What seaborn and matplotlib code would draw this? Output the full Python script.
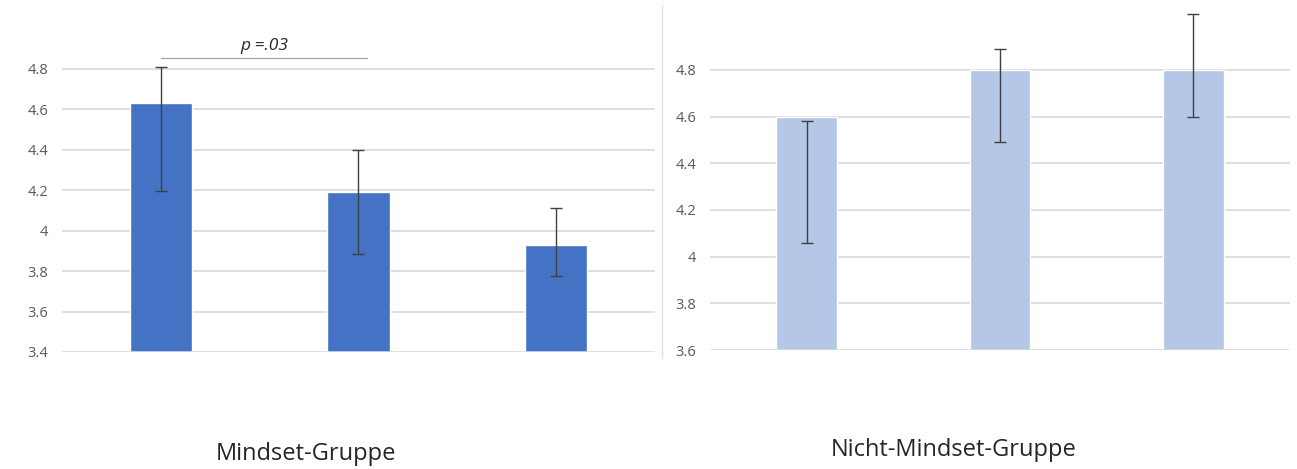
import pandas as pd
import numpy as np
import matplotlib
matplotlib.use('Agg')
import matplotlib.pyplot as plt
import seaborn as sns
from matplotlib.lines import Line2D

# data
groups = ['1', '2', '3']
mindset_mean = [4.63, 4.19, 3.93]
mindset_low = [4.195, 3.885, 3.775]
mindset_high = [4.81, 4.40, 4.11]

nicht_mean = [4.60, 4.80, 4.80]
nicht_low = [4.06, 4.49, 4.60]
nicht_high = [4.58, 4.89, 5.04]

left_ticks = [3.4, 3.6, 3.8, 4.0, 4.2, 4.4, 4.6, 4.8]
right_ticks = [3.6, 3.8, 4.0, 4.2, 4.4, 4.6, 4.8]
tick_labels_left = ['3.4', '3.6', '3.8', '4', '4.2', '4.4', '4.6', '4.8']
tick_labels_right = ['3.6', '3.8', '4', '4.2', '4.4', '4.6', '4.8']

sns.set_style('white')
plt.rcParams['font.family'] = ['Open Sans', 'DejaVu Sans']

fig = plt.figure(figsize=(12.97, 4.69), dpi=100)
ax1 = fig.add_axes([0.0478, 0.2495, 0.4572, 0.6896])
ax2 = fig.add_axes([0.5474, 0.2537, 0.4472, 0.6966])


def draw_panel(ax, mean, low, high, color, ticks, labels, ylim, title, title_y):
    df = pd.DataFrame({'group': groups, 'mean': mean})
    sns.barplot(data=df, x='group', y='mean', color=color, width=0.315,
                errorbar=None, ax=ax, zorder=3, saturation=1)
    # error range is not always around the mean, so draw it from its own midpoint
    low = np.array(low)
    high = np.array(high)
    mid = (low + high) / 2
    ax.errorbar(range(len(groups)), mid, yerr=(high - low) / 2, fmt='none',
                ecolor='#404040', elinewidth=1, capsize=4, capthick=1,
                zorder=4, clip_on=False)
    ax.set_ylim(*ylim)
    ax.set_xlim(-0.5, 2.5)
    ax.set_yticks(ticks)
    ax.set_yticklabels(labels, color='#595959', fontsize=10.5)
    ax.set_xticks([])
    ax.set_xlabel('')
    ax.set_ylabel('')
    ax.tick_params(axis='y', length=0, pad=10)
    for s in ax.spines.values():
        s.set_visible(False)
    for t in ticks[1:]:
        ax.axhline(t, color='#D9D9D9', lw=1.2, zorder=1)
    # baseline sits over the bar bottoms
    ax.axhline(ticks[0], color='#D9D9D9', lw=1.2, zorder=5)
    fig.text(title_y[0], title_y[1], title, ha='center', va='center',
             fontsize=17, color='#262626')


draw_panel(ax1, mindset_mean, mindset_low, mindset_high, '#4472C4',
           left_ticks, tick_labels_left, (3.4, 5.0), 'Mindset-Gruppe', (0.236, 0.032))
draw_panel(ax2, nicht_mean, nicht_low, nicht_high, '#B4C7E7',
           right_ticks, tick_labels_right, (3.6, 5.0), 'Nicht-Mindset-Gruppe', (0.735, 0.041))

# significance marker
ax1.plot([0.0, 1.045], [4.855, 4.855], color='#A6A6A6', lw=0.9, clip_on=False)
ax1.text(0.525, 4.915, 'p =.03', ha='center', va='center', fontsize=12.5,
         style='italic', color='#262626')

# thin separator between panels
fig.add_artist(Line2D([0.5104, 0.5104], [0.2367, 0.989], color='#E3E3E3', lw=1))

fig.savefig('out.png', dpi=100, facecolor='white')
